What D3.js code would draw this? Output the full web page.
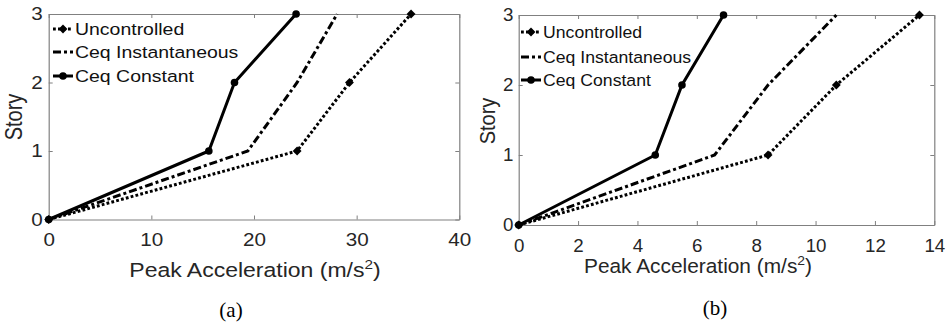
<!DOCTYPE html>
<html>
<head>
<meta charset="utf-8">
<script src="https://cdn.jsdelivr.net/npm/d3@7"></script>
<style>
  body { margin: 0; background: #fff; }
  svg { display: block; font-family: "Liberation Sans", Arial, sans-serif; }
</style>
</head>
<body>
<svg id="chart" width="950" height="325"></svg>
<script>
// story levels and peak accelerations (m/s^2)
const stories = [0, 1, 2, 3];
const seriesNames = ['Uncontrolled', 'Ceq Instantaneous', 'Ceq Constant'];

const accA_uncontrolled = [0, 24.2, 29.3, 35.3];
const accA_instant = [0, 19.4, 24.2, 28.1];
const accA_constant = [0, 15.6, 18.1, 24.1];

const accB_uncontrolled = [0, 8.4, 10.7, 13.5];
const accB_instant = [0, 6.6, 8.4, 10.7];
const accB_constant = [0, 4.6, 5.5, 6.9];

const xTicksA = [0, 10, 20, 30, 40];
const xTicksB = [0, 2, 4, 6, 8, 10, 12, 14];
const yTicks = [0, 1, 2, 3];
const panelLabels = ['(a)', '(b)'];

// line styles per series: dotted + diamond, dash-dot, solid + circle
const styles = [
  { dash: '2.8,2.2', marker: 'diamond' },
  { dash: '8,3,3,3', marker: null },
  { dash: null, marker: 'circle' }
];

const svg = d3.select('#chart');
const axisGrey = '#808080';
const textCol = '#262626';

function drawMarker(g, type, x, y) {
  if (type === 'circle') {
    g.append('circle').attr('cx', x).attr('cy', y).attr('r', 3.8).attr('fill', '#000');
  } else if (type === 'diamond') {
    g.append('path')
      .attr('d', d3.symbol().type(d3.symbolDiamond2).size(50)())
      .attr('transform', `translate(${x},${y})`)
      .attr('fill', '#000');
  }
}

function drawPanel(p) {
  const x = d3.scaleLinear().domain(p.xDomain).range([p.left, p.right]);
  const y = d3.scaleLinear().domain([0, 3]).range([p.bottom, p.top]);
  const g = svg.append('g');
  const sx = p.sx;

  // box and inward ticks
  const styleAxis = sel => {
    sel.select('.domain').attr('stroke', axisGrey).attr('stroke-width', 1.2);
    sel.selectAll('.tick line').attr('stroke', axisGrey);
    sel.selectAll('.tick text')
      .attr('fill', textCol)
      .attr('font-size', 17.5)
      .attr('font-family', '"Liberation Sans", Arial, sans-serif')
      .attr('transform', `scale(${sx},1)`);
  };

  g.append('g')
    .attr('transform', `translate(0,${p.bottom})`)
    .call(d3.axisBottom(x).tickValues(p.xTicks).tickFormat(d3.format('d'))
      .tickSizeInner(-4).tickSizeOuter(0).tickPadding(p.xPad))
    .call(styleAxis);
  g.append('g')
    .attr('transform', `translate(0,${p.top})`)
    .call(d3.axisTop(x).tickValues(p.xTicks).tickSizeInner(-4).tickSizeOuter(0).tickFormat(''))
    .call(styleAxis);
  g.append('g')
    .attr('transform', `translate(${p.left},0)`)
    .call(d3.axisLeft(y).tickValues(yTicks).tickFormat(d3.format('d'))
      .tickSizeInner(-4).tickSizeOuter(0).tickPadding(5))
    .call(styleAxis);
  g.append('g')
    .attr('transform', `translate(${p.right},0)`)
    .call(d3.axisRight(y).tickValues(yTicks).tickSizeInner(-4).tickSizeOuter(0).tickFormat(''))
    .call(styleAxis);

  // series
  const line = d3.line().x(d => x(d[0])).y(d => y(d[1]));
  p.series.forEach((vals, i) => {
    const pts = vals.map((v, k) => [v, stories[k]]);
    g.append('path')
      .attr('d', line(pts))
      .attr('fill', 'none')
      .attr('stroke', '#000')
      .attr('stroke-width', 3)
      .attr('stroke-dasharray', styles[i].dash);
    pts.forEach(d => drawMarker(g, styles[i].marker, x(d[0]), y(d[1])));
  });

  // legend
  seriesNames.forEach((name, i) => {
    const ly = p.legY[i];
    g.append('line')
      .attr('x1', p.legX).attr('x2', p.legX + 20)
      .attr('y1', ly).attr('y2', ly)
      .attr('stroke', '#000').attr('stroke-width', 3)
      .attr('stroke-dasharray', styles[i].dash);
    drawMarker(g, styles[i].marker, p.legX + 10, ly);
    g.append('g')
      .attr('transform', `translate(${p.legX + 22},${ly + 6}) scale(${sx},1)`)
      .append('text')
      .attr('font-size', 16.5)
      .attr('fill', '#111')
      .text(name);
  });

  // axis labels
  const xl = g.append('g')
    .attr('transform', `translate(${p.xLabelX},${p.xLabelY}) scale(${sx},1)`)
    .append('text')
    .attr('text-anchor', 'middle')
    .attr('font-size', 19.5)
    .attr('fill', textCol);
  xl.append('tspan').text('Peak Acceleration (m/s');
  xl.append('tspan').attr('dy', -8).attr('font-size', 13).text('2');
  xl.append('tspan').attr('dy', 8).text(')');

  g.append('g')
    .attr('transform', `translate(${p.yLabelX},${p.yLabelY}) scale(${sx},1) rotate(-90)`)
    .append('text')
    .attr('text-anchor', 'middle')
    .attr('dy', '0.35em')
    .attr('font-size', 20)
    .attr('fill', textCol)
    .text('Story');

  // panel label
  g.append('text')
    .attr('x', p.capX).attr('y', p.capY)
    .attr('text-anchor', 'middle')
    .attr('font-family', '"Liberation Serif", "Times New Roman", serif')
    .attr('font-size', 21)
    .attr('fill', '#000')
    .text(p.caption);
}

drawPanel({
  xDomain: [0, 40], xTicks: xTicksA,
  left: 48.7, right: 459.3, top: 14, bottom: 219.5, sx: 1.18, xPad: 14,
  series: [accA_uncontrolled, accA_instant, accA_constant],
  legX: 53, legY: [29, 52, 76],
  xLabelX: 255, xLabelY: 277, yLabelX: 14, yLabelY: 117,
  capX: 231, capY: 317, caption: panelLabels[0]
});

drawPanel({
  xDomain: [0, 14], xTicks: xTicksB,
  left: 518.7, right: 934.3, top: 15, bottom: 225, sx: 1.07, xPad: 15,
  series: [accB_uncontrolled, accB_instant, accB_constant],
  legX: 521, legY: [32, 57, 80],
  xLabelX: 698, xLabelY: 273, yLabelX: 488, yLabelY: 121,
  capX: 715, capY: 315, caption: panelLabels[1]
});
</script>
</body>
</html>
